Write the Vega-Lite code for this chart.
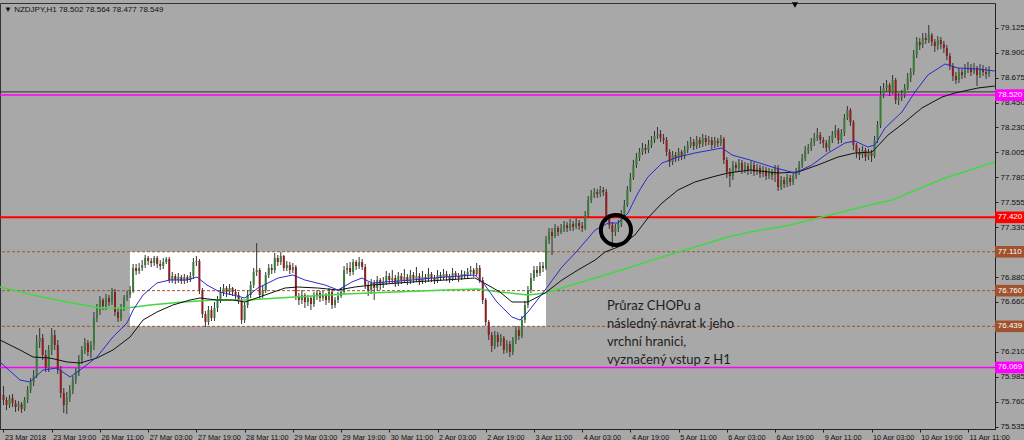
{
"$schema":"https://vega.github.io/schema/vega-lite/v6.json",
"width":995,"height":426,
"autosize":{"type":"none"},
"padding":{"left":0,"top":3,"right":29,"bottom":11},
"background":"#a8a8a8",
"config":{"view":{"stroke":"#333333","fill":"#a8a8a8"},"axis":{"labelOverlap":false,"labelFlush":false,"labelBound":false,"grid":false},"scale":{"continuousPadding":0}},
"title":{"text":"▼ NZDJPY,H1  78.502 78.564 78.477 78.549","anchor":"start","frame":"group","offset":-12,"dx":4,"fontSize":8,"font":"Liberation Sans","fontWeight":"normal","color":"#111111"},
"datasets":{
"candles":[
{"i":0,"o":75.821,"h":75.902,"l":75.731,"c":75.776},
{"i":1,"o":75.776,"h":75.803,"l":75.686,"c":75.731},
{"i":2,"o":75.731,"h":75.821,"l":75.704,"c":75.794},
{"i":3,"o":75.794,"h":75.830,"l":75.713,"c":75.749},
{"i":4,"o":75.749,"h":75.776,"l":75.668,"c":75.713},
{"i":5,"o":75.713,"h":75.767,"l":75.677,"c":75.740},
{"i":6,"o":75.740,"h":75.758,"l":75.659,"c":75.695},
{"i":7,"o":75.695,"h":75.803,"l":75.677,"c":75.776},
{"i":8,"o":75.776,"h":75.902,"l":75.749,"c":75.866},
{"i":9,"o":75.866,"h":75.974,"l":75.839,"c":75.938},
{"i":10,"o":75.938,"h":76.046,"l":75.902,"c":76.001},
{"i":11,"o":76.001,"h":76.361,"l":75.974,"c":76.298},
{"i":12,"o":76.298,"h":76.424,"l":76.244,"c":76.334},
{"i":13,"o":76.334,"h":76.370,"l":76.136,"c":76.181},
{"i":14,"o":76.181,"h":76.226,"l":76.028,"c":76.064},
{"i":15,"o":76.064,"h":76.271,"l":76.028,"c":76.226},
{"i":16,"o":76.226,"h":76.424,"l":76.181,"c":76.361},
{"i":17,"o":76.361,"h":76.406,"l":76.226,"c":76.271},
{"i":18,"o":76.271,"h":76.316,"l":76.010,"c":76.046},
{"i":19,"o":76.046,"h":76.082,"l":75.794,"c":75.839},
{"i":20,"o":75.839,"h":75.884,"l":75.659,"c":75.731},
{"i":21,"o":75.731,"h":75.848,"l":75.650,"c":75.794},
{"i":22,"o":75.794,"h":75.911,"l":75.758,"c":75.866},
{"i":23,"o":75.866,"h":75.992,"l":75.830,"c":75.956},
{"i":24,"o":75.956,"h":76.064,"l":75.920,"c":76.028},
{"i":25,"o":76.028,"h":76.181,"l":75.992,"c":76.136},
{"i":26,"o":76.136,"h":76.262,"l":76.100,"c":76.226},
{"i":27,"o":76.226,"h":76.334,"l":76.190,"c":76.289},
{"i":28,"o":76.289,"h":76.316,"l":76.172,"c":76.208},
{"i":29,"o":76.208,"h":76.307,"l":76.154,"c":76.271},
{"i":30,"o":76.271,"h":76.568,"l":76.226,"c":76.514},
{"i":31,"o":76.514,"h":76.640,"l":76.478,"c":76.586},
{"i":32,"o":76.586,"h":76.712,"l":76.541,"c":76.676},
{"i":33,"o":76.676,"h":76.694,"l":76.586,"c":76.622},
{"i":34,"o":76.622,"h":76.730,"l":76.586,"c":76.694},
{"i":35,"o":76.694,"h":76.721,"l":76.622,"c":76.658},
{"i":36,"o":76.658,"h":76.784,"l":76.631,"c":76.748},
{"i":37,"o":76.748,"h":76.775,"l":76.532,"c":76.568},
{"i":38,"o":76.568,"h":76.595,"l":76.478,"c":76.514},
{"i":39,"o":76.514,"h":76.640,"l":76.487,"c":76.604},
{"i":40,"o":76.604,"h":76.721,"l":76.577,"c":76.694},
{"i":41,"o":76.694,"h":76.757,"l":76.667,"c":76.721},
{"i":42,"o":76.721,"h":76.802,"l":76.694,"c":76.766},
{"i":43,"o":76.766,"h":77.000,"l":76.739,"c":76.964},
{"i":44,"o":76.964,"h":77.000,"l":76.901,"c":76.937},
{"i":45,"o":76.937,"h":77.009,"l":76.910,"c":76.964},
{"i":46,"o":76.964,"h":77.036,"l":76.937,"c":76.991},
{"i":47,"o":76.991,"h":77.081,"l":76.964,"c":77.054},
{"i":48,"o":77.054,"h":77.072,"l":76.991,"c":77.027},
{"i":49,"o":77.027,"h":77.054,"l":76.973,"c":77.009},
{"i":50,"o":77.009,"h":77.072,"l":76.982,"c":77.054},
{"i":51,"o":77.054,"h":77.072,"l":76.964,"c":77.000},
{"i":52,"o":77.000,"h":77.036,"l":76.946,"c":76.982},
{"i":53,"o":76.982,"h":77.054,"l":76.955,"c":77.018},
{"i":54,"o":77.018,"h":77.063,"l":77.000,"c":77.045},
{"i":55,"o":77.045,"h":77.063,"l":76.829,"c":76.856},
{"i":56,"o":76.856,"h":76.928,"l":76.829,"c":76.892},
{"i":57,"o":76.892,"h":76.910,"l":76.820,"c":76.856},
{"i":58,"o":76.856,"h":76.919,"l":76.829,"c":76.883},
{"i":59,"o":76.883,"h":76.901,"l":76.820,"c":76.847},
{"i":60,"o":76.847,"h":76.910,"l":76.820,"c":76.883},
{"i":61,"o":76.883,"h":76.901,"l":76.829,"c":76.856},
{"i":62,"o":76.856,"h":76.928,"l":76.838,"c":76.892},
{"i":63,"o":76.892,"h":77.054,"l":76.865,"c":77.018},
{"i":64,"o":77.018,"h":77.072,"l":76.982,"c":77.027},
{"i":65,"o":77.027,"h":77.045,"l":76.730,"c":76.766},
{"i":66,"o":76.766,"h":76.784,"l":76.514,"c":76.550},
{"i":67,"o":76.550,"h":76.577,"l":76.433,"c":76.478},
{"i":68,"o":76.478,"h":76.622,"l":76.451,"c":76.586},
{"i":69,"o":76.586,"h":76.622,"l":76.487,"c":76.514},
{"i":70,"o":76.514,"h":76.658,"l":76.487,"c":76.604},
{"i":71,"o":76.604,"h":76.712,"l":76.568,"c":76.676},
{"i":72,"o":76.676,"h":76.793,"l":76.649,"c":76.748},
{"i":73,"o":76.748,"h":76.820,"l":76.712,"c":76.784},
{"i":74,"o":76.784,"h":76.802,"l":76.703,"c":76.748},
{"i":75,"o":76.748,"h":76.820,"l":76.721,"c":76.784},
{"i":76,"o":76.784,"h":76.793,"l":76.712,"c":76.748},
{"i":77,"o":76.748,"h":76.775,"l":76.676,"c":76.721},
{"i":78,"o":76.721,"h":76.748,"l":76.640,"c":76.676},
{"i":79,"o":76.676,"h":76.694,"l":76.460,"c":76.496},
{"i":80,"o":76.496,"h":76.658,"l":76.469,"c":76.631},
{"i":81,"o":76.631,"h":76.766,"l":76.604,"c":76.721},
{"i":82,"o":76.721,"h":76.847,"l":76.694,"c":76.811},
{"i":83,"o":76.811,"h":76.964,"l":76.784,"c":76.928},
{"i":84,"o":76.928,"h":77.189,"l":76.892,"c":76.946},
{"i":85,"o":76.946,"h":76.964,"l":76.685,"c":76.721},
{"i":86,"o":76.721,"h":76.811,"l":76.694,"c":76.766},
{"i":87,"o":76.766,"h":76.928,"l":76.739,"c":76.901},
{"i":88,"o":76.901,"h":77.000,"l":76.874,"c":76.964},
{"i":89,"o":76.964,"h":77.000,"l":76.910,"c":76.946},
{"i":90,"o":76.946,"h":77.099,"l":76.919,"c":77.054},
{"i":91,"o":77.054,"h":77.081,"l":76.982,"c":77.018},
{"i":92,"o":77.018,"h":77.108,"l":76.991,"c":77.072},
{"i":93,"o":77.072,"h":77.081,"l":76.937,"c":76.964},
{"i":94,"o":76.964,"h":77.027,"l":76.937,"c":76.991},
{"i":95,"o":76.991,"h":77.018,"l":76.910,"c":76.946},
{"i":96,"o":76.946,"h":77.009,"l":76.919,"c":76.973},
{"i":97,"o":76.973,"h":76.991,"l":76.676,"c":76.712},
{"i":98,"o":76.712,"h":76.739,"l":76.631,"c":76.676},
{"i":99,"o":76.676,"h":76.766,"l":76.640,"c":76.721},
{"i":100,"o":76.721,"h":76.739,"l":76.604,"c":76.658},
{"i":101,"o":76.658,"h":76.721,"l":76.622,"c":76.694},
{"i":102,"o":76.694,"h":76.712,"l":76.586,"c":76.640},
{"i":103,"o":76.640,"h":76.748,"l":76.613,"c":76.712},
{"i":104,"o":76.712,"h":76.766,"l":76.676,"c":76.739},
{"i":105,"o":76.739,"h":76.757,"l":76.658,"c":76.694},
{"i":106,"o":76.694,"h":76.757,"l":76.667,"c":76.721},
{"i":107,"o":76.721,"h":76.739,"l":76.631,"c":76.676},
{"i":108,"o":76.676,"h":76.784,"l":76.649,"c":76.748},
{"i":109,"o":76.748,"h":76.766,"l":76.595,"c":76.631},
{"i":110,"o":76.631,"h":76.703,"l":76.604,"c":76.676},
{"i":111,"o":76.676,"h":76.748,"l":76.649,"c":76.712},
{"i":112,"o":76.712,"h":76.784,"l":76.694,"c":76.748},
{"i":113,"o":76.748,"h":76.982,"l":76.730,"c":76.946},
{"i":114,"o":76.946,"h":77.009,"l":76.910,"c":76.964},
{"i":115,"o":76.964,"h":77.018,"l":76.892,"c":76.928},
{"i":116,"o":76.928,"h":77.045,"l":76.901,"c":77.018},
{"i":117,"o":77.018,"h":77.036,"l":76.946,"c":76.982},
{"i":118,"o":76.982,"h":77.063,"l":76.955,"c":77.018},
{"i":119,"o":77.018,"h":77.045,"l":76.946,"c":76.973},
{"i":120,"o":76.973,"h":77.000,"l":76.775,"c":76.811},
{"i":121,"o":76.811,"h":76.838,"l":76.712,"c":76.766},
{"i":122,"o":76.766,"h":76.865,"l":76.730,"c":76.829},
{"i":123,"o":76.829,"h":76.856,"l":76.676,"c":76.784},
{"i":124,"o":76.784,"h":76.892,"l":76.757,"c":76.856},
{"i":125,"o":76.856,"h":76.874,"l":76.766,"c":76.811},
{"i":126,"o":76.811,"h":76.883,"l":76.784,"c":76.838},
{"i":127,"o":76.838,"h":76.937,"l":76.811,"c":76.892},
{"i":128,"o":76.892,"h":76.919,"l":76.820,"c":76.856},
{"i":129,"o":76.856,"h":76.946,"l":76.829,"c":76.874},
{"i":130,"o":76.874,"h":76.901,"l":76.793,"c":76.829},
{"i":131,"o":76.829,"h":76.928,"l":76.802,"c":76.892},
{"i":132,"o":76.892,"h":76.919,"l":76.820,"c":76.856},
{"i":133,"o":76.856,"h":76.955,"l":76.829,"c":76.883},
{"i":134,"o":76.883,"h":76.910,"l":76.811,"c":76.847},
{"i":135,"o":76.847,"h":76.946,"l":76.820,"c":76.901},
{"i":136,"o":76.901,"h":76.928,"l":76.829,"c":76.865},
{"i":137,"o":76.865,"h":76.973,"l":76.838,"c":76.892},
{"i":138,"o":76.892,"h":76.919,"l":76.811,"c":76.847},
{"i":139,"o":76.847,"h":76.937,"l":76.820,"c":76.883},
{"i":140,"o":76.883,"h":76.910,"l":76.829,"c":76.865},
{"i":141,"o":76.865,"h":76.964,"l":76.838,"c":76.910},
{"i":142,"o":76.910,"h":76.928,"l":76.838,"c":76.874},
{"i":143,"o":76.874,"h":76.901,"l":76.820,"c":76.856},
{"i":144,"o":76.856,"h":76.946,"l":76.829,"c":76.901},
{"i":145,"o":76.901,"h":76.928,"l":76.847,"c":76.874},
{"i":146,"o":76.874,"h":76.955,"l":76.856,"c":76.910},
{"i":147,"o":76.910,"h":76.937,"l":76.847,"c":76.883},
{"i":148,"o":76.883,"h":76.910,"l":76.829,"c":76.865},
{"i":149,"o":76.865,"h":76.964,"l":76.847,"c":76.919},
{"i":150,"o":76.919,"h":76.937,"l":76.856,"c":76.892},
{"i":151,"o":76.892,"h":76.919,"l":76.838,"c":76.874},
{"i":152,"o":76.874,"h":76.946,"l":76.856,"c":76.910},
{"i":153,"o":76.910,"h":76.937,"l":76.865,"c":76.892},
{"i":154,"o":76.892,"h":76.964,"l":76.874,"c":76.928},
{"i":155,"o":76.928,"h":76.982,"l":76.901,"c":76.946},
{"i":156,"o":76.946,"h":76.964,"l":76.883,"c":76.910},
{"i":157,"o":76.910,"h":77.009,"l":76.892,"c":76.964},
{"i":158,"o":76.964,"h":76.991,"l":76.829,"c":76.856},
{"i":159,"o":76.856,"h":76.883,"l":76.640,"c":76.676},
{"i":160,"o":76.676,"h":76.694,"l":76.442,"c":76.478},
{"i":161,"o":76.478,"h":76.496,"l":76.316,"c":76.361},
{"i":162,"o":76.361,"h":76.388,"l":76.208,"c":76.262},
{"i":163,"o":76.262,"h":76.397,"l":76.235,"c":76.361},
{"i":164,"o":76.361,"h":76.388,"l":76.253,"c":76.298},
{"i":165,"o":76.298,"h":76.370,"l":76.262,"c":76.334},
{"i":166,"o":76.334,"h":76.352,"l":76.190,"c":76.226},
{"i":167,"o":76.226,"h":76.316,"l":76.199,"c":76.280},
{"i":168,"o":76.280,"h":76.307,"l":76.163,"c":76.208},
{"i":169,"o":76.208,"h":76.343,"l":76.181,"c":76.316},
{"i":170,"o":76.316,"h":76.442,"l":76.280,"c":76.406},
{"i":171,"o":76.406,"h":76.433,"l":76.316,"c":76.352},
{"i":172,"o":76.352,"h":76.532,"l":76.334,"c":76.496},
{"i":173,"o":76.496,"h":76.667,"l":76.469,"c":76.631},
{"i":174,"o":76.631,"h":76.802,"l":76.604,"c":76.766},
{"i":175,"o":76.766,"h":76.919,"l":76.739,"c":76.874},
{"i":176,"o":76.874,"h":76.982,"l":76.847,"c":76.946},
{"i":177,"o":76.946,"h":76.982,"l":76.883,"c":76.919},
{"i":178,"o":76.919,"h":77.018,"l":76.892,"c":76.982},
{"i":179,"o":76.982,"h":77.018,"l":76.928,"c":76.964},
{"i":180,"o":76.964,"h":77.252,"l":76.946,"c":77.216},
{"i":181,"o":77.216,"h":77.324,"l":77.180,"c":77.288},
{"i":182,"o":77.288,"h":77.324,"l":77.081,"c":77.252},
{"i":183,"o":77.252,"h":77.360,"l":77.234,"c":77.324},
{"i":184,"o":77.324,"h":77.342,"l":77.252,"c":77.288},
{"i":185,"o":77.288,"h":77.360,"l":77.270,"c":77.315},
{"i":186,"o":77.315,"h":77.387,"l":77.288,"c":77.351},
{"i":187,"o":77.351,"h":77.378,"l":77.288,"c":77.324},
{"i":188,"o":77.324,"h":77.405,"l":77.297,"c":77.360},
{"i":189,"o":77.360,"h":77.387,"l":77.297,"c":77.333},
{"i":190,"o":77.333,"h":77.414,"l":77.315,"c":77.369},
{"i":191,"o":77.369,"h":77.396,"l":77.306,"c":77.342},
{"i":192,"o":77.342,"h":77.378,"l":77.288,"c":77.324},
{"i":193,"o":77.324,"h":77.477,"l":77.306,"c":77.441},
{"i":194,"o":77.441,"h":77.612,"l":77.423,"c":77.576},
{"i":195,"o":77.576,"h":77.666,"l":77.549,"c":77.621},
{"i":196,"o":77.621,"h":77.684,"l":77.594,"c":77.648},
{"i":197,"o":77.648,"h":77.675,"l":77.594,"c":77.630},
{"i":198,"o":77.630,"h":77.702,"l":77.603,"c":77.666},
{"i":199,"o":77.666,"h":77.693,"l":77.612,"c":77.648},
{"i":200,"o":77.648,"h":77.675,"l":77.378,"c":77.414},
{"i":201,"o":77.414,"h":77.450,"l":77.315,"c":77.351},
{"i":202,"o":77.351,"h":77.378,"l":77.144,"c":77.288},
{"i":203,"o":77.288,"h":77.360,"l":77.252,"c":77.324},
{"i":204,"o":77.324,"h":77.396,"l":77.288,"c":77.360},
{"i":205,"o":77.360,"h":77.486,"l":77.333,"c":77.450},
{"i":206,"o":77.450,"h":77.576,"l":77.432,"c":77.531},
{"i":207,"o":77.531,"h":77.702,"l":77.513,"c":77.666},
{"i":208,"o":77.666,"h":77.819,"l":77.648,"c":77.774},
{"i":209,"o":77.774,"h":77.936,"l":77.756,"c":77.891},
{"i":210,"o":77.891,"h":77.999,"l":77.864,"c":77.954},
{"i":211,"o":77.954,"h":78.044,"l":77.927,"c":78.008},
{"i":212,"o":78.008,"h":78.089,"l":77.981,"c":78.044},
{"i":213,"o":78.044,"h":78.080,"l":77.990,"c":78.026},
{"i":214,"o":78.026,"h":78.116,"l":77.999,"c":78.071},
{"i":215,"o":78.071,"h":78.152,"l":78.044,"c":78.116},
{"i":216,"o":78.116,"h":78.197,"l":78.089,"c":78.152},
{"i":217,"o":78.152,"h":78.233,"l":78.125,"c":78.170},
{"i":218,"o":78.170,"h":78.206,"l":78.098,"c":78.134},
{"i":219,"o":78.134,"h":78.170,"l":78.080,"c":78.116},
{"i":220,"o":78.116,"h":78.143,"l":77.972,"c":78.008},
{"i":221,"o":78.008,"h":78.035,"l":77.873,"c":77.918},
{"i":222,"o":77.918,"h":78.017,"l":77.891,"c":77.981},
{"i":223,"o":77.981,"h":78.008,"l":77.918,"c":77.954},
{"i":224,"o":77.954,"h":78.044,"l":77.927,"c":78.008},
{"i":225,"o":78.008,"h":78.026,"l":77.936,"c":77.972},
{"i":226,"o":77.972,"h":78.062,"l":77.945,"c":78.026},
{"i":227,"o":78.026,"h":78.107,"l":77.999,"c":78.071},
{"i":228,"o":78.071,"h":78.143,"l":78.044,"c":78.098},
{"i":229,"o":78.098,"h":78.125,"l":78.026,"c":78.062},
{"i":230,"o":78.062,"h":78.152,"l":78.035,"c":78.116},
{"i":231,"o":78.116,"h":78.143,"l":78.044,"c":78.080},
{"i":232,"o":78.080,"h":78.170,"l":78.053,"c":78.134},
{"i":233,"o":78.134,"h":78.161,"l":78.062,"c":78.098},
{"i":234,"o":78.098,"h":78.152,"l":78.071,"c":78.116},
{"i":235,"o":78.116,"h":78.143,"l":78.035,"c":78.071},
{"i":236,"o":78.071,"h":78.143,"l":78.044,"c":78.107},
{"i":237,"o":78.107,"h":78.134,"l":78.053,"c":78.089},
{"i":238,"o":78.089,"h":78.161,"l":78.062,"c":78.125},
{"i":239,"o":78.125,"h":78.143,"l":77.900,"c":77.936},
{"i":240,"o":77.936,"h":77.963,"l":77.774,"c":77.828},
{"i":241,"o":77.828,"h":77.864,"l":77.693,"c":77.792},
{"i":242,"o":77.792,"h":77.927,"l":77.756,"c":77.891},
{"i":243,"o":77.891,"h":77.918,"l":77.828,"c":77.864},
{"i":244,"o":77.864,"h":77.945,"l":77.837,"c":77.909},
{"i":245,"o":77.909,"h":77.936,"l":77.810,"c":77.846},
{"i":246,"o":77.846,"h":77.918,"l":77.819,"c":77.882},
{"i":247,"o":77.882,"h":77.909,"l":77.801,"c":77.846},
{"i":248,"o":77.846,"h":77.927,"l":77.810,"c":77.891},
{"i":249,"o":77.891,"h":77.918,"l":77.792,"c":77.828},
{"i":250,"o":77.828,"h":77.900,"l":77.801,"c":77.864},
{"i":251,"o":77.864,"h":77.891,"l":77.774,"c":77.810},
{"i":252,"o":77.810,"h":77.882,"l":77.783,"c":77.846},
{"i":253,"o":77.846,"h":77.873,"l":77.756,"c":77.792},
{"i":254,"o":77.792,"h":77.864,"l":77.765,"c":77.828},
{"i":255,"o":77.828,"h":77.855,"l":77.756,"c":77.801},
{"i":256,"o":77.801,"h":77.891,"l":77.738,"c":77.864},
{"i":257,"o":77.864,"h":77.891,"l":77.657,"c":77.693},
{"i":258,"o":77.693,"h":77.792,"l":77.666,"c":77.756},
{"i":259,"o":77.756,"h":77.783,"l":77.684,"c":77.720},
{"i":260,"o":77.720,"h":77.810,"l":77.693,"c":77.774},
{"i":261,"o":77.774,"h":77.801,"l":77.702,"c":77.738},
{"i":262,"o":77.738,"h":77.828,"l":77.711,"c":77.792},
{"i":263,"o":77.792,"h":77.864,"l":77.765,"c":77.828},
{"i":264,"o":77.828,"h":77.927,"l":77.801,"c":77.891},
{"i":265,"o":77.891,"h":77.990,"l":77.864,"c":77.954},
{"i":266,"o":77.954,"h":78.062,"l":77.927,"c":78.026},
{"i":267,"o":78.026,"h":78.080,"l":77.990,"c":78.044},
{"i":268,"o":78.044,"h":78.134,"l":78.017,"c":78.098},
{"i":269,"o":78.098,"h":78.179,"l":78.062,"c":78.134},
{"i":270,"o":78.134,"h":78.224,"l":78.107,"c":78.161},
{"i":271,"o":78.161,"h":78.188,"l":78.080,"c":78.116},
{"i":272,"o":78.116,"h":78.143,"l":78.044,"c":78.089},
{"i":273,"o":78.089,"h":78.116,"l":78.008,"c":78.044},
{"i":274,"o":78.044,"h":78.152,"l":78.017,"c":78.116},
{"i":275,"o":78.116,"h":78.197,"l":78.089,"c":78.161},
{"i":276,"o":78.161,"h":78.251,"l":78.134,"c":78.206},
{"i":277,"o":78.206,"h":78.224,"l":78.080,"c":78.116},
{"i":278,"o":78.116,"h":78.215,"l":78.089,"c":78.179},
{"i":279,"o":78.179,"h":78.350,"l":78.152,"c":78.314},
{"i":280,"o":78.314,"h":78.422,"l":78.296,"c":78.386},
{"i":281,"o":78.386,"h":78.404,"l":78.242,"c":78.278},
{"i":282,"o":78.278,"h":78.296,"l":78.026,"c":78.071},
{"i":283,"o":78.071,"h":78.089,"l":77.954,"c":78.008},
{"i":284,"o":78.008,"h":78.044,"l":77.936,"c":77.981},
{"i":285,"o":77.981,"h":78.062,"l":77.954,"c":78.026},
{"i":286,"o":78.026,"h":78.044,"l":77.927,"c":77.963},
{"i":287,"o":77.963,"h":78.035,"l":77.936,"c":77.999},
{"i":288,"o":77.999,"h":78.026,"l":77.918,"c":77.972},
{"i":289,"o":77.972,"h":78.152,"l":77.954,"c":78.116},
{"i":290,"o":78.116,"h":78.287,"l":78.089,"c":78.251},
{"i":291,"o":78.251,"h":78.602,"l":78.224,"c":78.521},
{"i":292,"o":78.521,"h":78.629,"l":78.494,"c":78.584},
{"i":293,"o":78.584,"h":78.656,"l":78.548,"c":78.611},
{"i":294,"o":78.611,"h":78.629,"l":78.512,"c":78.548},
{"i":295,"o":78.548,"h":78.701,"l":78.530,"c":78.656},
{"i":296,"o":78.656,"h":78.674,"l":78.440,"c":78.476},
{"i":297,"o":78.476,"h":78.539,"l":78.431,"c":78.494},
{"i":298,"o":78.494,"h":78.566,"l":78.467,"c":78.521},
{"i":299,"o":78.521,"h":78.620,"l":78.494,"c":78.584},
{"i":300,"o":78.584,"h":78.719,"l":78.566,"c":78.674},
{"i":301,"o":78.674,"h":78.764,"l":78.638,"c":78.728},
{"i":302,"o":78.728,"h":78.926,"l":78.701,"c":78.881},
{"i":303,"o":78.881,"h":79.043,"l":78.854,"c":78.998},
{"i":304,"o":78.998,"h":79.034,"l":78.926,"c":78.971},
{"i":305,"o":78.971,"h":79.079,"l":78.944,"c":79.034},
{"i":306,"o":79.034,"h":79.079,"l":78.980,"c":79.016},
{"i":307,"o":79.016,"h":79.151,"l":78.989,"c":79.061},
{"i":308,"o":79.061,"h":79.079,"l":78.962,"c":78.998},
{"i":309,"o":78.998,"h":79.025,"l":78.908,"c":78.962},
{"i":310,"o":78.962,"h":79.052,"l":78.926,"c":79.016},
{"i":311,"o":79.016,"h":79.043,"l":78.935,"c":78.980},
{"i":312,"o":78.980,"h":79.007,"l":78.899,"c":78.944},
{"i":313,"o":78.944,"h":78.971,"l":78.836,"c":78.872},
{"i":314,"o":78.872,"h":78.899,"l":78.746,"c":78.782},
{"i":315,"o":78.782,"h":78.809,"l":78.647,"c":78.692},
{"i":316,"o":78.692,"h":78.728,"l":78.620,"c":78.656},
{"i":317,"o":78.656,"h":78.764,"l":78.629,"c":78.728},
{"i":318,"o":78.728,"h":78.755,"l":78.665,"c":78.701},
{"i":319,"o":78.701,"h":78.800,"l":78.674,"c":78.746},
{"i":320,"o":78.746,"h":78.818,"l":78.719,"c":78.764},
{"i":321,"o":78.764,"h":78.800,"l":78.692,"c":78.728},
{"i":322,"o":78.728,"h":78.809,"l":78.710,"c":78.764},
{"i":323,"o":78.764,"h":78.782,"l":78.602,"c":78.701},
{"i":324,"o":78.701,"h":78.800,"l":78.674,"c":78.746},
{"i":325,"o":78.746,"h":78.791,"l":78.692,"c":78.728},
{"i":326,"o":78.728,"h":78.773,"l":78.665,"c":78.710},
{"i":327,"o":78.710,"h":78.782,"l":78.683,"c":78.746}
],
"ma":[
{"s":"fast","i":-1.16,"v":76.118},{"s":"fast","i":5.47,"v":75.956},{"s":"fast","i":8.8,"v":75.938},{"s":"fast","i":13.1,"v":76.046},{"s":"fast","i":17.75,"v":76.064},{"s":"fast","i":22.1,"v":75.983},{"s":"fast","i":25.4,"v":76.046},{"s":"fast","i":31.0,"v":76.163},{"s":"fast","i":36.3,"v":76.343},{"s":"fast","i":41.0,"v":76.469},{"s":"fast","i":43.0,"v":76.586},{"s":"fast","i":46.3,"v":76.721},{"s":"fast","i":50.9,"v":76.829},{"s":"fast","i":55.2,"v":76.856},{"s":"fast","i":60.9,"v":76.856},{"s":"fast","i":64.2,"v":76.883},{"s":"fast","i":67.5,"v":76.811},{"s":"fast","i":71.8,"v":76.748},{"s":"fast","i":76.1,"v":76.721},{"s":"fast","i":80.1,"v":76.694},{"s":"fast","i":84.4,"v":76.784},{"s":"fast","i":91.1,"v":76.874},{"s":"fast","i":96.0,"v":76.901},{"s":"fast","i":100.0,"v":76.856},{"s":"fast","i":106.7,"v":76.811},{"s":"fast","i":111.0,"v":76.766},{"s":"fast","i":115.6,"v":76.838},{"s":"fast","i":118.9,"v":76.874},{"s":"fast","i":122.3,"v":76.829},{"s":"fast","i":126.6,"v":76.838},{"s":"fast","i":135.5,"v":76.856},{"s":"fast","i":146.5,"v":76.883},{"s":"fast","i":156.4,"v":76.901},{"s":"fast","i":159.7,"v":76.811},{"s":"fast","i":163.7,"v":76.658},{"s":"fast","i":168.7,"v":76.523},{"s":"fast","i":171.4,"v":76.496},{"s":"fast","i":174.0,"v":76.568},{"s":"fast","i":179.7,"v":76.766},{"s":"fast","i":185.3,"v":76.973},{"s":"fast","i":190.6,"v":77.126},{"s":"fast","i":196.3,"v":77.306},{"s":"fast","i":200.6,"v":77.369},{"s":"fast","i":203.9,"v":77.369},{"s":"fast","i":207.2,"v":77.459},{"s":"fast","i":210.5,"v":77.639},{"s":"fast","i":213.8,"v":77.783},{"s":"fast","i":218.5,"v":77.909},{"s":"fast","i":223.8,"v":77.963},{"s":"fast","i":229.4,"v":77.999},{"s":"fast","i":238.4,"v":78.044},{"s":"fast","i":241.7,"v":77.981},{"s":"fast","i":247.7,"v":77.936},{"s":"fast","i":255.0,"v":77.873},{"s":"fast","i":262.6,"v":77.819},{"s":"fast","i":268.2,"v":77.891},{"s":"fast","i":273.6,"v":77.999},{"s":"fast","i":279.2,"v":78.089},{"s":"fast","i":282.5,"v":78.107},{"s":"fast","i":286.8,"v":78.053},{"s":"fast","i":289.1,"v":78.071},{"s":"fast","i":292.5,"v":78.224},{"s":"fast","i":298.1,"v":78.368},{"s":"fast","i":302.4,"v":78.548},{"s":"fast","i":306.7,"v":78.701},{"s":"fast","i":312.4,"v":78.8},{"s":"fast","i":316.7,"v":78.764},{"s":"fast","i":323.3,"v":78.755},{"s":"fast","i":328.9,"v":78.737},
{"s":"mid","i":-1.16,"v":76.316},{"s":"mid","i":5.5,"v":76.226},{"s":"mid","i":9.8,"v":76.163},{"s":"mid","i":15.4,"v":76.154},{"s":"mid","i":21.1,"v":76.118},{"s":"mid","i":25.4,"v":76.109},{"s":"mid","i":31.0,"v":76.154},{"s":"mid","i":36.3,"v":76.226},{"s":"mid","i":42.0,"v":76.343},{"s":"mid","i":46.3,"v":76.496},{"s":"mid","i":50.9,"v":76.568},{"s":"mid","i":56.2,"v":76.631},{"s":"mid","i":61.9,"v":76.676},{"s":"mid","i":65.2,"v":76.694},{"s":"mid","i":70.8,"v":76.676},{"s":"mid","i":76.1,"v":76.676},{"s":"mid","i":80.1,"v":76.658},{"s":"mid","i":86.8,"v":76.721},{"s":"mid","i":93.4,"v":76.784},{"s":"mid","i":97.7,"v":76.793},{"s":"mid","i":104.3,"v":76.784},{"s":"mid","i":111.0,"v":76.766},{"s":"mid","i":116.6,"v":76.793},{"s":"mid","i":122.3,"v":76.811},{"s":"mid","i":135.5,"v":76.838},{"s":"mid","i":146.5,"v":76.856},{"s":"mid","i":156.4,"v":76.874},{"s":"mid","i":160.7,"v":76.811},{"s":"mid","i":164.7,"v":76.748},{"s":"mid","i":168.7,"v":76.658},{"s":"mid","i":174.0,"v":76.658},{"s":"mid","i":179.7,"v":76.739},{"s":"mid","i":185.3,"v":76.856},{"s":"mid","i":190.6,"v":76.946},{"s":"mid","i":196.3,"v":77.036},{"s":"mid","i":199.6,"v":77.108},{"s":"mid","i":203.9,"v":77.153},{"s":"mid","i":209.5,"v":77.261},{"s":"mid","i":213.8,"v":77.414},{"s":"mid","i":218.5,"v":77.549},{"s":"mid","i":223.8,"v":77.666},{"s":"mid","i":229.4,"v":77.738},{"s":"mid","i":235.1,"v":77.783},{"s":"mid","i":240.4,"v":77.819},{"s":"mid","i":247.7,"v":77.846},{"s":"mid","i":257.0,"v":77.819},{"s":"mid","i":263.6,"v":77.828},{"s":"mid","i":270.2,"v":77.891},{"s":"mid","i":276.9,"v":77.963},{"s":"mid","i":282.5,"v":77.999},{"s":"mid","i":288.2,"v":78.008},{"s":"mid","i":293.5,"v":78.161},{"s":"mid","i":299.1,"v":78.278},{"s":"mid","i":304.7,"v":78.404},{"s":"mid","i":311.4,"v":78.503},{"s":"mid","i":315.7,"v":78.539},{"s":"mid","i":323.3,"v":78.584},{"s":"mid","i":328.9,"v":78.602},
{"s":"slow","i":-1.16,"v":76.793},{"s":"slow","i":9.8,"v":76.721},{"s":"slow","i":21.1,"v":76.658},{"s":"slow","i":32.0,"v":76.604},{"s":"slow","i":41.0,"v":76.604},{"s":"slow","i":48.6,"v":76.631},{"s":"slow","i":59.6,"v":76.658},{"s":"slow","i":69.5,"v":76.676},{"s":"slow","i":81.1,"v":76.676},{"s":"slow","i":96.7,"v":76.703},{"s":"slow","i":113.3,"v":76.73},{"s":"slow","i":129.9,"v":76.748},{"s":"slow","i":146.5,"v":76.766},{"s":"slow","i":157.4,"v":76.775},{"s":"slow","i":164.7,"v":76.748},{"s":"slow","i":174.0,"v":76.721},{"s":"slow","i":179.7,"v":76.739},{"s":"slow","i":185.3,"v":76.784},{"s":"slow","i":196.3,"v":76.874},{"s":"slow","i":207.2,"v":76.964},{"s":"slow","i":218.5,"v":77.063},{"s":"slow","i":229.4,"v":77.153},{"s":"slow","i":240.4,"v":77.243},{"s":"slow","i":247.7,"v":77.288},{"s":"slow","i":261.0,"v":77.351},{"s":"slow","i":274.2,"v":77.441},{"s":"slow","i":287.5,"v":77.531},{"s":"slow","i":294.8,"v":77.576},{"s":"slow","i":312.4,"v":77.774},{"s":"slow","i":328.9,"v":77.918}
],
"levels":[{"p":78.549,"t":"bid"},{"p":78.52,"t":"mag"},{"p":77.42,"t":"red"},{"p":77.11,"t":"dash"},{"p":76.76,"t":"dash"},{"p":76.439,"t":"dash"},{"p":76.069,"t":"mag"}]
},
"layer":[
{"data":{"values":[{"start":41.95,"end":180,"hi":77.11,"lo":76.439}]},
 "mark":{"type":"rect","color":"#ffffff"},
 "encoding":{
  "x":{"field":"start","type":"quantitative","scale":{"domain":[-1.161,328.97],"nice":false,"zero":false,"padding":0},
   "axis":{"title":null,"orient":"bottom","tickCount":40,"values":[0,16,32,48,64,80,96,112,128,144,160,176,192,208,224,240,256,272,288,304,320],
    "labelExpr":"['23 Mar 2018','23 Mar 19:00','26 Mar 11:00','27 Mar 03:00','27 Mar 19:00','28 Mar 11:00','29 Mar 03:00','29 Mar 19:00','30 Mar 11:00','2 Apr 03:00','2 Apr 19:00','3 Apr 11:00','4 Apr 03:00','4 Apr 19:00','5 Apr 11:00','6 Apr 03:00','6 Apr 19:00','9 Apr 11:00','10 Apr 03:00','10 Apr 19:00','11 Apr 11:00'][round(datum.value/16)]",
    "tickSize":3,"labelAlign":"left","labelBaseline":"top","labelPadding":1,"labelOffset":1,"labelFont":"Liberation Sans","labelFontSize":7.3,"labelColor":"#111111","domainColor":"#222222","tickColor":"#222222","labelOverlap":false,"labelFlush":false,"labelBound":false}},
  "x2":{"field":"end"},
  "y":{"field":"hi","type":"quantitative","scale":{"domain":[75.515,79.349],"nice":false,"zero":false,"padding":0},
   "axis":{"title":null,"orient":"right","tickCount":40,"values":[79.125,78.9,78.675,78.45,78.23,78.005,77.78,77.555,77.33,76.88,76.66,76.21,75.985,75.76,75.535],"format":".3f",
    "tickSize":3,"labelPadding":2,"labelFont":"Liberation Sans","labelFontSize":8,"labelColor":"#111111","domainColor":"#222222","tickColor":"#222222","labelOverlap":false,"labelFlush":false,"labelBound":false}},
  "y2":{"field":"lo"}}},
{"data":{"name":"levels"},"transform":[{"filter":"datum.t=='dash'"}],
 "mark":{"type":"rule","color":"#a0522d","strokeWidth":1,"strokeDash":[3,2]},
 "encoding":{"y":{"field":"p","type":"quantitative","axis":{"orient":"right","title":null}}}},
{"data":{"name":"levels"},"transform":[{"filter":"datum.t=='bid'"}],
 "mark":{"type":"rule","color":"#303030","strokeWidth":1},
 "encoding":{"y":{"field":"p","type":"quantitative","axis":{"orient":"right","title":null}}}},
{"data":{"name":"levels"},"transform":[{"filter":"datum.t=='mag'"}],
 "mark":{"type":"rule","color":"#ff00ff","strokeWidth":1.5},
 "encoding":{"y":{"field":"p","type":"quantitative","axis":{"orient":"right","title":null}}}},
{"data":{"name":"levels"},"transform":[{"filter":"datum.t=='red'"}],
 "mark":{"type":"rule","color":"#ff0000","strokeWidth":2},
 "encoding":{"y":{"field":"p","type":"quantitative","axis":{"orient":"right","title":null}}}},
{"data":{"name":"candles"},
 "mark":{"type":"rule","color":"#333333","strokeWidth":1},
 "encoding":{"x":{"field":"i","type":"quantitative","axis":{"title":null}},"y":{"field":"l","type":"quantitative","axis":{"orient":"right","title":null}},"y2":{"field":"h"}}},
{"data":{"name":"candles"},
 "mark":{"type":"bar","size":2},
 "encoding":{"x":{"field":"i","type":"quantitative","axis":{"title":null}},"y":{"field":"o","type":"quantitative","axis":{"orient":"right","title":null}},"y2":{"field":"c"},
  "color":{"condition":{"test":"datum.c < datum.o","value":"#8b1f1f"},"value":"#3a7a3a"}}},
{"data":{"name":"ma"},"transform":[{"filter":"datum.s=='slow'"}],
 "mark":{"type":"line","color":"#45d645","strokeWidth":1.5},
 "encoding":{"x":{"field":"i","type":"quantitative","axis":{"title":null}},"y":{"field":"v","type":"quantitative","axis":{"orient":"right","title":null}}}},
{"data":{"name":"ma"},"transform":[{"filter":"datum.s=='mid'"}],
 "mark":{"type":"line","color":"#111111","strokeWidth":1},
 "encoding":{"x":{"field":"i","type":"quantitative","axis":{"title":null}},"y":{"field":"v","type":"quantitative","axis":{"orient":"right","title":null}}}},
{"data":{"name":"ma"},"transform":[{"filter":"datum.s=='fast'"}],
 "mark":{"type":"line","color":"#2a2ad0","strokeWidth":1},
 "encoding":{"x":{"field":"i","type":"quantitative","axis":{"title":null}},"y":{"field":"v","type":"quantitative","axis":{"orient":"right","title":null}}}},
{"data":{"values":[{"i":203.2,"p":77.306}]},
 "mark":{"type":"point","shape":"circle","filled":false,"size":908,"stroke":"#000000","strokeWidth":4,"opacity":1},
 "encoding":{"x":{"field":"i","type":"quantitative","axis":{"title":null}},"y":{"field":"p","type":"quantitative","axis":{"orient":"right","title":null}}}},
{"data":{"values":[{"i":200.2,"p":76.676,"lines":["Průraz CHOPu a","následný návrat k jeho","vrchní hranici,","vyznačený vstup z H1"]}]},
 "mark":{"type":"text","align":"left","baseline":"top","font":"Lato","fontSize":13,"lineHeight":18,"color":"#1e1e1e"},
 "encoding":{"x":{"field":"i","type":"quantitative","axis":{"title":null}},"y":{"field":"p","type":"quantitative","axis":{"orient":"right","title":null}},"text":{"field":"lines"}}},
{"data":{"values":[{"i":262.6,"p":79.331}]},
 "mark":{"type":"point","shape":"triangle-down","filled":true,"size":40,"color":"#000000","opacity":1},
 "encoding":{"x":{"field":"i","type":"quantitative","axis":{"title":null}},"y":{"field":"p","type":"quantitative","axis":{"orient":"right","title":null}}}},
{"data":{"name":"levels"},"transform":[{"filter":"datum.t!='bid'"}],
 "mark":{"type":"point","shape":"M-1,-0.4H1V0.4H-1Z","filled":true,"size":841,"opacity":1},
 "encoding":{"x":{"datum":333.8,"type":"quantitative","axis":{"title":null}},"y":{"field":"p","type":"quantitative","axis":{"orient":"right","title":null}},
  "color":{"condition":[{"test":"datum.t=='red'","value":"#ff0000"},{"test":"datum.t=='dash'","value":"#a0522d"}],"value":"#ff00ff"}}},
{"data":{"name":"levels"},"transform":[{"filter":"datum.t!='bid'"}],
 "mark":{"type":"text","align":"left","baseline":"middle","font":"Liberation Sans","fontSize":8,"color":"#ffffff"},
 "encoding":{"x":{"datum":329.9,"type":"quantitative","axis":{"title":null}},"y":{"field":"p","type":"quantitative","axis":{"orient":"right","title":null}},"text":{"field":"p","type":"quantitative","format":".3f"}}}
]
}
